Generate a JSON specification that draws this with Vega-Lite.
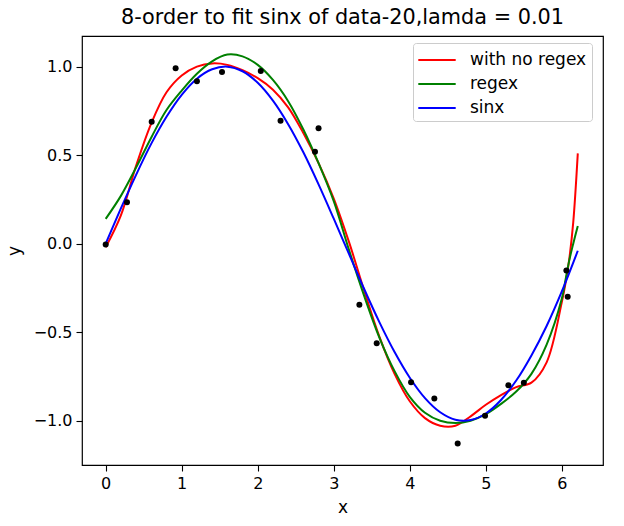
{
  "$schema": "https://vega.github.io/schema/vega-lite/v6.json",
  "autosize": "none",
  "width": 521,
  "height": 429,
  "padding": {"left": 82, "top": 36, "right": 21, "bottom": 61},
  "background": "white",
  "title": {"text": "8-order to fit sinx of data-20,lamda = 0.01", "fontSize": 20.8, "font": "DejaVu Sans", "fontWeight": "normal", "color": "black", "offset": 7, "anchor": "middle"},
  "config": {
    "font": "DejaVu Sans",
    "view": {"stroke": "black", "strokeWidth": 1.2},
    "axis": {"domain": false, "grid": false, "tickColor": "black", "tickSize": 6, "tickWidth": 1.1, "labelColor": "black", "labelFontSize": 16, "labelFont": "DejaVu Sans", "titleFont": "DejaVu Sans", "titleFontSize": 17, "titleFontWeight": "normal", "titleColor": "black", "labelPadding": 4}
  },
  "datasets": {
    "curves": [
      {"series": "with no regex", "x": 0, "y": -0.02},
      {"series": "with no regex", "x": 0.2, "y": 0.16},
      {"series": "with no regex", "x": 0.4, "y": 0.44},
      {"series": "with no regex", "x": 0.6, "y": 0.68},
      {"series": "with no regex", "x": 0.8, "y": 0.855},
      {"series": "with no regex", "x": 1.0, "y": 0.95},
      {"series": "with no regex", "x": 1.2, "y": 1.0},
      {"series": "with no regex", "x": 1.4, "y": 1.018},
      {"series": "with no regex", "x": 1.6, "y": 1.01},
      {"series": "with no regex", "x": 1.8, "y": 0.98},
      {"series": "with no regex", "x": 2.0, "y": 0.935},
      {"series": "with no regex", "x": 2.2, "y": 0.87},
      {"series": "with no regex", "x": 2.4, "y": 0.77},
      {"series": "with no regex", "x": 2.6, "y": 0.625},
      {"series": "with no regex", "x": 2.8, "y": 0.455},
      {"series": "with no regex", "x": 3.0, "y": 0.255},
      {"series": "with no regex", "x": 3.2, "y": 0.01},
      {"series": "with no regex", "x": 3.4, "y": -0.265},
      {"series": "with no regex", "x": 3.6, "y": -0.525},
      {"series": "with no regex", "x": 3.8, "y": -0.735},
      {"series": "with no regex", "x": 4.0, "y": -0.89},
      {"series": "with no regex", "x": 4.2, "y": -0.985},
      {"series": "with no regex", "x": 4.4, "y": -1.028},
      {"series": "with no regex", "x": 4.6, "y": -1.028},
      {"series": "with no regex", "x": 4.8, "y": -0.975},
      {"series": "with no regex", "x": 5.0, "y": -0.91},
      {"series": "with no regex", "x": 5.2, "y": -0.855},
      {"series": "with no regex", "x": 5.4, "y": -0.81},
      {"series": "with no regex", "x": 5.6, "y": -0.785},
      {"series": "with no regex", "x": 5.8, "y": -0.67},
      {"series": "with no regex", "x": 6.0, "y": -0.33},
      {"series": "with no regex", "x": 6.05, "y": -0.22},
      {"series": "with no regex", "x": 6.1, "y": -0.08},
      {"series": "with no regex", "x": 6.15, "y": 0.12},
      {"series": "with no regex", "x": 6.21, "y": 0.51},
      {"series": "regex", "x": 0, "y": 0.14},
      {"series": "regex", "x": 0.2, "y": 0.27},
      {"series": "regex", "x": 0.4, "y": 0.43},
      {"series": "regex", "x": 0.6, "y": 0.6},
      {"series": "regex", "x": 0.8, "y": 0.755},
      {"series": "regex", "x": 1.0, "y": 0.865},
      {"series": "regex", "x": 1.2, "y": 0.96},
      {"series": "regex", "x": 1.4, "y": 1.03},
      {"series": "regex", "x": 1.6, "y": 1.068},
      {"series": "regex", "x": 1.8, "y": 1.058},
      {"series": "regex", "x": 2.0, "y": 1.01},
      {"series": "regex", "x": 2.2, "y": 0.925},
      {"series": "regex", "x": 2.4, "y": 0.805},
      {"series": "regex", "x": 2.6, "y": 0.645},
      {"series": "regex", "x": 2.8, "y": 0.455},
      {"series": "regex", "x": 3.0, "y": 0.24},
      {"series": "regex", "x": 3.2, "y": -0.035},
      {"series": "regex", "x": 3.4, "y": -0.295},
      {"series": "regex", "x": 3.6, "y": -0.53},
      {"series": "regex", "x": 3.8, "y": -0.72},
      {"series": "regex", "x": 4.0, "y": -0.865},
      {"series": "regex", "x": 4.2, "y": -0.955},
      {"series": "regex", "x": 4.4, "y": -1.0},
      {"series": "regex", "x": 4.6, "y": -1.013},
      {"series": "regex", "x": 4.8, "y": -1.0},
      {"series": "regex", "x": 5.0, "y": -0.963},
      {"series": "regex", "x": 5.2, "y": -0.905},
      {"series": "regex", "x": 5.4, "y": -0.835},
      {"series": "regex", "x": 5.6, "y": -0.735},
      {"series": "regex", "x": 5.8, "y": -0.57},
      {"series": "regex", "x": 6.0, "y": -0.31},
      {"series": "regex", "x": 6.05, "y": -0.2},
      {"series": "regex", "x": 6.1, "y": -0.09},
      {"series": "regex", "x": 6.15, "y": 0.0},
      {"series": "regex", "x": 6.21, "y": 0.1},
      {"series": "sinx", "x": 0, "y": 0},
      {"series": "sinx", "x": 0.2, "y": 0.199},
      {"series": "sinx", "x": 0.4, "y": 0.389},
      {"series": "sinx", "x": 0.6, "y": 0.565},
      {"series": "sinx", "x": 0.8, "y": 0.717},
      {"series": "sinx", "x": 1.0, "y": 0.841},
      {"series": "sinx", "x": 1.2, "y": 0.932},
      {"series": "sinx", "x": 1.4, "y": 0.985},
      {"series": "sinx", "x": 1.6, "y": 1.0},
      {"series": "sinx", "x": 1.8, "y": 0.974},
      {"series": "sinx", "x": 2.0, "y": 0.909},
      {"series": "sinx", "x": 2.2, "y": 0.808},
      {"series": "sinx", "x": 2.4, "y": 0.675},
      {"series": "sinx", "x": 2.6, "y": 0.516},
      {"series": "sinx", "x": 2.8, "y": 0.335},
      {"series": "sinx", "x": 3.0, "y": 0.141},
      {"series": "sinx", "x": 3.2, "y": -0.058},
      {"series": "sinx", "x": 3.4, "y": -0.256},
      {"series": "sinx", "x": 3.6, "y": -0.443},
      {"series": "sinx", "x": 3.8, "y": -0.612},
      {"series": "sinx", "x": 4.0, "y": -0.757},
      {"series": "sinx", "x": 4.2, "y": -0.872},
      {"series": "sinx", "x": 4.4, "y": -0.952},
      {"series": "sinx", "x": 4.6, "y": -0.994},
      {"series": "sinx", "x": 4.8, "y": -0.996},
      {"series": "sinx", "x": 5.0, "y": -0.959},
      {"series": "sinx", "x": 5.2, "y": -0.883},
      {"series": "sinx", "x": 5.4, "y": -0.773},
      {"series": "sinx", "x": 5.6, "y": -0.631},
      {"series": "sinx", "x": 5.8, "y": -0.465},
      {"series": "sinx", "x": 6.0, "y": -0.27},
      {"series": "sinx", "x": 6.21, "y": -0.04}
    ],
    "points": [
      {"x": 0.0, "y": -0.005},
      {"x": 0.28, "y": 0.234},
      {"x": 0.605, "y": 0.689},
      {"x": 0.92, "y": 0.991},
      {"x": 1.2, "y": 0.918},
      {"x": 1.53, "y": 0.969},
      {"x": 2.04, "y": 0.976},
      {"x": 2.3, "y": 0.695},
      {"x": 2.8, "y": 0.652},
      {"x": 2.753, "y": 0.519},
      {"x": 3.337, "y": -0.345},
      {"x": 3.565, "y": -0.563},
      {"x": 4.017, "y": -0.783},
      {"x": 4.323, "y": -0.874},
      {"x": 4.63, "y": -1.128},
      {"x": 4.99, "y": -0.972},
      {"x": 5.297, "y": -0.8},
      {"x": 5.5, "y": -0.785},
      {"x": 6.06, "y": -0.151},
      {"x": 6.077, "y": -0.3}
    ]
  },
  "layer": [
    {
      "data": {"name": "curves"},
      "mark": {"type": "line", "strokeWidth": 2, "interpolate": "catmull-rom"},
      "encoding": {
        "x": {"field": "x", "type": "quantitative", "scale": {"domain": [-0.3115, 6.5415], "nice": false, "zero": false},
              "axis": {"values": [0, 1, 2, 3, 4, 5, 6], "format": "d", "title": "x", "titlePadding": 8}},
        "y": {"field": "y", "type": "quantitative", "scale": {"domain": [-1.25, 1.173], "nice": false, "zero": false},
              "axis": {"values": [-1, -0.5, 0, 0.5, 1], "format": ".1f", "title": "y", "titlePadding": 10}},
        "color": {"field": "series", "type": "nominal",
                  "scale": {"domain": ["with no regex", "regex", "sinx"], "range": ["#ff0000", "#008000", "#0000ff"]},
                  "sort": ["with no regex", "regex", "sinx"],
                  "legend": {"title": null, "orient": "none", "legendX": 331, "legendY": 7, "padding": 5,
                             "symbolType": "M-1.7,0H1.7", "symbolSize": 484, "symbolStrokeWidth": 2, "symbolOffset": 7,
                             "labelOffset": 21, "labelFontSize": 17, "labelColor": "black", "labelFont": "DejaVu Sans",
                             "rowPadding": 4, "strokeColor": "#cccccc", "fillColor": "rgba(255,255,255,0.8)", "cornerRadius": 3}}
      }
    },
    {
      "data": {"name": "points"},
      "mark": {"type": "circle", "size": 36, "color": "black", "opacity": 1},
      "encoding": {
        "x": {"field": "x", "type": "quantitative", "axis": {"values": [0, 1, 2, 3, 4, 5, 6], "format": "d", "title": "x", "titlePadding": 8}},
        "y": {"field": "y", "type": "quantitative", "axis": {"values": [-1, -0.5, 0, 0.5, 1], "format": ".1f", "title": "y", "titlePadding": 10}}
      }
    }
  ]
}
